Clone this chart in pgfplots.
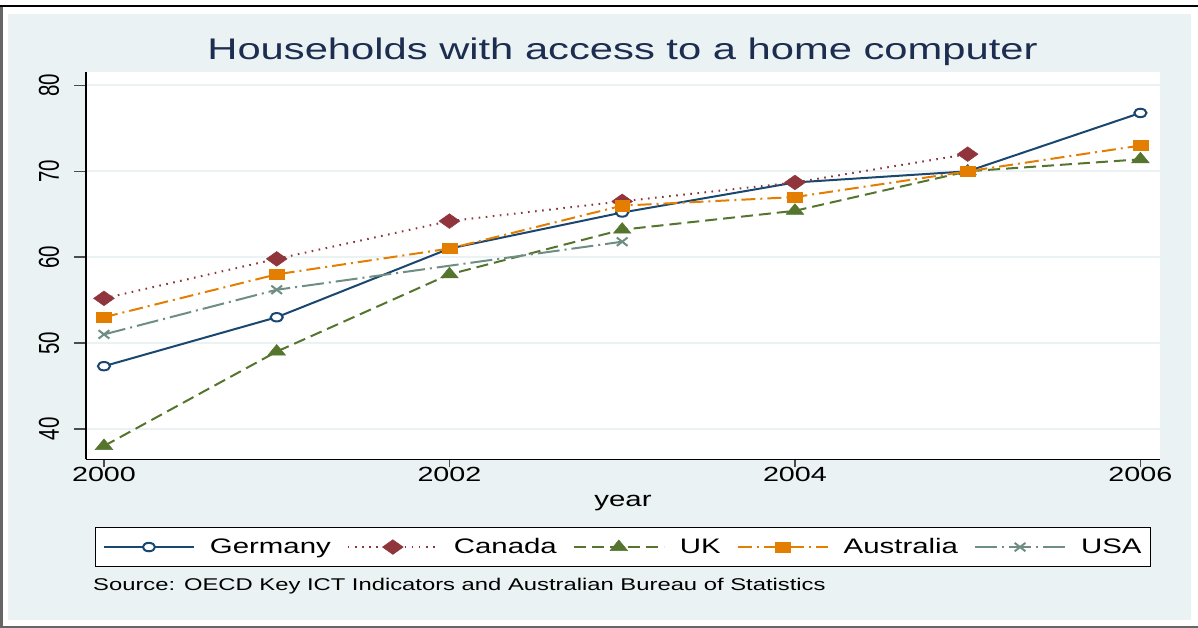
\documentclass[border=0pt]{standalone}
\usepackage{fontspec}
\setmainfont{Liberation Sans}
\usepackage{graphicx}
\usepackage{pgfplots}
\pgfplotsset{compat=1.18}
\definecolor{bgc}{HTML}{EAF2F3}
\definecolor{cger}{RGB}{26,71,111}
\definecolor{ccan}{RGB}{144,53,59}
\definecolor{cuk}{RGB}{85,117,47}
\definecolor{caus}{RGB}{227,126,0}
\definecolor{cusa}{RGB}{110,142,132}
\definecolor{ctitle}{HTML}{1C2D50}
\newcommand{\sx}[1]{\scalebox{1.4}[1]{#1}}
\newcommand{\sy}[1]{\scalebox{1}[1.4]{#1}}

\begin{document}
\begin{tikzpicture}[x=1pt,y=1pt]
\useasboundingbox (0,0) rectangle (1198,628);
\fill[white] (0,0) rectangle (1198,628);
\fill[bgc] (8,8) rectangle (1191,614);
\draw[gray!80!black, line width=2.7pt] (1.35,0) -- (1.35,622);
\draw[black, line width=2.3pt] (0,621.9) -- (1198,621.9);
\draw[gray!80!black, line width=2pt] (0,1) -- (1198,1);

\begin{axis}[
  at={(86pt,168.5pt)}, anchor=south west,
  scale only axis, width=1074.5pt, height=387.5pt,
  xmin=1999.896, xmax=2006.116, ymin=36.43, ymax=81.57,
  axis background/.style={fill=white},
  axis x line*=bottom, axis y line*=left,
  axis line style={black, line width=1.6pt},
  tick align=outside,
  xtick={2000,2002,2004,2006},
  xticklabels={\sx{2000},\sx{2002},\sx{2004},\sx{2006}},
  ytick={40,50,60,70,80},
  yticklabels={\sy{40},\sy{50},\sy{60},\sy{70},\sy{80}},
  minor tick num=0,
  xtick style={gray!60!black, line width=1.6pt, /pgfplots/major tick length=8pt},
  ytick style={gray!60!black, line width=1.6pt, /pgfplots/major tick length=12pt},
  ymajorgrids,
  major grid style={bgc, line width=2pt},
  ticklabel style={font=\fontsize{20.5pt}{24pt}\selectfont, text=black},
  yticklabel style={rotate=90, anchor=south},
  yticklabel shift=19pt,
  legend columns=5,
  legend cell align=left,
  legend image code/.code={\draw[mark repeat=2,mark phase=2,#1] plot coordinates {(0pt,0pt) (45pt,0pt) (90pt,0pt)};},
  legend style={at={(0.5,-0.226)}, anchor=center, draw=black, line width=1pt, fill=white,
    font=\fontsize{21pt}{25pt}\selectfont, inner xsep=7pt, inner ysep=9pt,
    /tikz/every odd column/.append style={column sep=13pt},
    /tikz/every even column/.append style={column sep=14pt}},
]
\addplot[cger, line width=2pt, mark=*, mark size=4.2pt,
  mark options={solid, fill=white, draw=cger, line width=2pt, xscale=1.45}]
  coordinates {(2000,47.3) (2001,53.0) (2002,61.0) (2003,65.2) (2004,68.7) (2005,70.0) (2006,76.8)};
\addlegendentry{\sx{Germany}}
\addplot[ccan, line width=2pt, dash pattern=on 1.6pt off 5.5pt, mark=diamond*, mark size=7.35pt,
  mark options={solid, fill=ccan, draw=ccan, line width=0.5pt, xscale=1.88}]
  coordinates {(2000,55.2) (2001,59.8) (2002,64.2) (2003,66.5) (2004,68.7) (2005,72.0)};
\addlegendentry{\sx{Canada}}
\addplot[cuk, line width=2pt, dash pattern=on 12pt off 6pt, mark=triangle*, mark size=7.1pt,
  mark options={solid, fill=cuk, draw=cuk, line width=0.5pt, xscale=1.43}]
  coordinates {(2000,38.0) (2001,49.0) (2002,58.0) (2003,63.2) (2004,65.4) (2005,70.0) (2006,71.4)};
\addlegendentry{\sx{UK}}
\addplot[caus, line width=2pt, dash pattern=on 14pt off 5pt on 2pt off 5pt, mark=square*, mark size=5.15pt,
  mark options={solid, fill=caus, draw=caus, line width=0.5pt, xscale=1.43}]
  coordinates {(2000,53.0) (2001,58.0) (2002,61.0) (2003,66.0) (2004,67.0) (2005,70.0) (2006,73.0)};
\addlegendentry{\sx{Australia}}
\addplot[cusa, line width=2pt, dash pattern=on 22pt off 5pt on 2pt off 5pt, mark=x, mark size=5.9pt,
  mark options={solid, draw=cusa, line width=2pt, xscale=1.29}]
  coordinates {(2000,51.0) (2001,56.2) (2003,61.8)};
\addlegendentry{\sx{USA}}
\end{axis}

\node[anchor=base, font=\fontsize{29.8pt}{34pt}\selectfont, text=ctitle] at (622.5,568) {\sx{Households with access to a home computer}};
\node[anchor=base, font=\fontsize{21pt}{25pt}\selectfont] at (623,121) {\sx{year}};
\node[anchor=base west, font=\fontsize{17pt}{20pt}\selectfont, inner sep=0pt] at (93,37.3) {\sx{Source: OECD Key ICT Indicators and Australian Bureau of Statistics}};
\end{tikzpicture}
\end{document}
